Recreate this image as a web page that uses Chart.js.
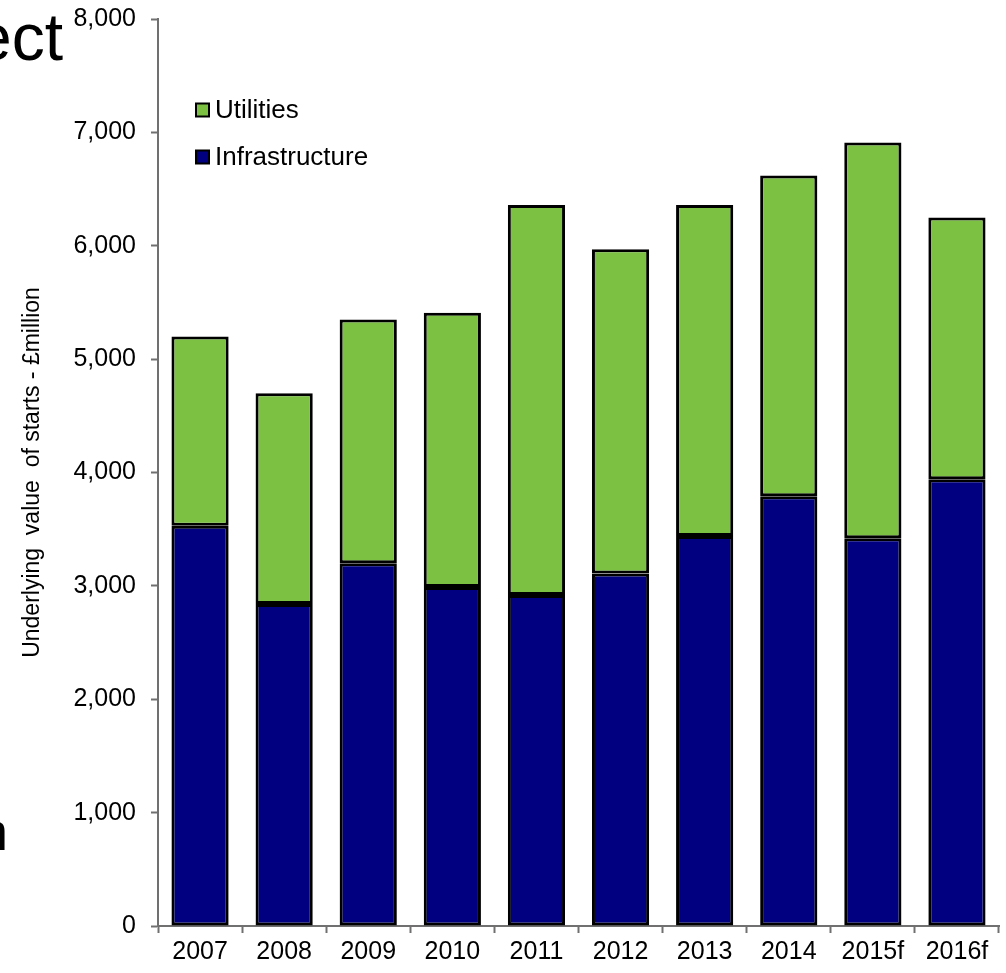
<!DOCTYPE html>
<html>
<head>
<meta charset="utf-8">
<script src="https://cdn.jsdelivr.net/npm/chart.js@4/dist/chart.umd.min.js"></script>
<style>
  html, body { margin: 0; padding: 0; background: #ffffff; }
  #wrap { position: relative; width: 1006px; height: 973px; overflow: hidden; }
  canvas { position: absolute; left: 0; top: 0; }
  .frag { position: absolute; font-family: "Liberation Sans", Arial, sans-serif; color: #000; white-space: nowrap; line-height: 1; }
</style>
</head>
<body>
<div id="wrap">
  <canvas id="chart" width="1006" height="973"></canvas>
  <div class="frag" id="fragA" style="font-size:66px; right:943px; top:4px;">ect</div>
  <div class="frag" id="fragB" style="font-size:54px; right:998px; top:804px;">n</div>
</div>
<script>
// Value of new work starts, £million
const years = ['2007', '2008', '2009', '2010', '2011', '2012', '2013', '2014', '2015f', '2016f'];
const infrastructure = [3530, 2840, 3200, 2990, 2920, 3110, 3440, 3790, 3420, 3940];
const utilities = [1670, 1860, 2150, 2420, 3440, 2860, 2920, 2830, 3490, 2310];
const yTicks = [0, 1000, 2000, 3000, 4000, 5000, 6000, 7000, 8000];

const FONT = '"Liberation Sans", Arial, sans-serif';
const GREEN = '#7dc143';
const NAVY = '#000080';

// Legend drawn inside the plot, Utilities listed above Infrastructure
const innerLegend = {
  id: 'innerLegend',
  afterDraw(chart) {
    const ctx = chart.ctx;
    const rows = [chart.data.datasets[1], chart.data.datasets[0]];
    const x = 196, y0 = 110, gap = 47, box = 13;
    ctx.save();
    ctx.font = '26px ' + FONT;
    ctx.textBaseline = 'middle';
    rows.forEach((ds, i) => {
      const cy = y0 + i * gap;
      ctx.fillStyle = ds.backgroundColor;
      ctx.fillRect(x, cy - box / 2, box, box);
      ctx.strokeStyle = '#000';
      ctx.lineWidth = 2;
      ctx.strokeRect(x, cy - box / 2, box, box);
      ctx.fillStyle = '#000';
      ctx.fillText(ds.label, x + box + 6, cy + 1);
    });
    ctx.restore();
  }
};

new Chart(document.getElementById('chart'), {
  type: 'bar',
  data: {
    labels: years,
    datasets: [
      { label: 'Infrastructure', data: infrastructure, backgroundColor: NAVY, borderColor: '#000', borderWidth: 3, borderSkipped: false },
      { label: 'Utilities', data: utilities, backgroundColor: GREEN, borderColor: '#000', borderWidth: 3, borderSkipped: false }
    ]
  },
  options: {
    responsive: false,
    animation: false,
    events: [],
    layout: { padding: { top: 19, right: 7, left: 0, bottom: 0 } },
    datasets: { bar: { categoryPercentage: 1.0, barPercentage: 0.68 } },
    plugins: {
      legend: { display: false },
      tooltip: { enabled: false },
      title: { display: false }
    },
    scales: {
      x: {
        stacked: true,
        grid: { display: true, drawOnChartArea: false, offset: true, color: '#707070', tickLength: 7, tickWidth: 2 },
        border: { display: true, color: '#707070', width: 2 },
        ticks: { color: '#000', font: { family: FONT, size: 25 }, padding: 4, maxRotation: 0, autoSkip: false },
        afterFit(scale) { scale.height = 47; scale.paddingLeft = 0; scale.paddingRight = 0; }
      },
      y: {
        stacked: true,
        min: 0,
        max: 8000,
        afterBuildTicks(scale) { scale.ticks = yTicks.map(v => ({ value: v })); },
        grid: { display: true, drawOnChartArea: false, color: '#707070', tickLength: 7, tickWidth: 2 },
        border: { display: true, color: '#707070', width: 2 },
        ticks: {
          color: '#000',
          font: { family: FONT, size: 25 },
          padding: 15,
          callback: v => v.toLocaleString('en-GB')
        },
        title: {
          display: true,
          text: 'Underlying  value  of starts - £million',
          color: '#000',
          font: { family: FONT, size: 23 },
          padding: { top: 19, bottom: 0 }
        },
        afterFit(scale) { scale.width = 158; scale.paddingTop = 0; scale.paddingBottom = 0; }
      }
    }
  },
  plugins: [innerLegend]
});
</script>
</body>
</html>
